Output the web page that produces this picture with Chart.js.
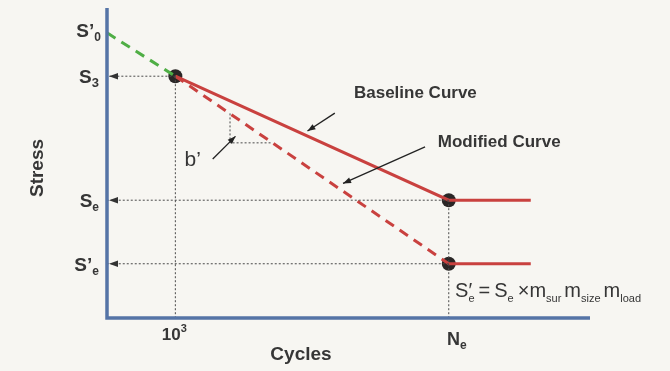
<!DOCTYPE html>
<html>
<head>
<meta charset="utf-8">
<script src="https://cdn.jsdelivr.net/npm/chart.js@4.4.0/dist/chart.umd.min.js"></script>
<style>
  html, body { margin: 0; padding: 0; background: #f7f6f2; }
  #wrap { position: relative; width: 670px; height: 371px; }
</style>
</head>
<body>
<div id="wrap"><canvas id="sn"></canvas></div>
<script>
// S-N diagram: baseline fatigue curve and the curve modified by the m-factors.
// x is log10(cycles), y is stress in arbitrary units.

const cycleTicks = [3, 6];                 // 10^3 and N_e
const cycleTickLabels = ['10', 'N'];
const runoutEnd = 6.9;                     // where the endurance lines stop

const stressS0 = 92;                       // S'0 (modified curve intercept)
const stressS3 = 78;                       // S3 (stress at 10^3 cycles)
const stressSe = 38;                       // Se
const stressSeMod = 17.5;                  // S'e

const baselineX = [3, 6, runoutEnd];
const baselineY = [stressS3, stressSe, stressSe];
const modifiedX = [3, 6];
const modifiedY = [stressS3, stressSeMod];
const modifiedRunoutX = [6, runoutEnd];
const modifiedRunoutY = [stressSeMod, stressSeMod];
const extensionX = [2.25, 3];
const extensionY = [stressS0, stressS3];
const slopeTriangleX = [3.6, 3.6, 4.06];
const slopeTriangleY = [66, 56.5, 56.5];

const RED = '#c9413f';
const GREEN = '#4fae45';
const BLUE = '#5574a6';
const GUIDE = '#4a4a4a';
const INK = '#363636';
const FONT = '"Liberation Sans", Arial, sans-serif';

const pts = (xs, ys) => xs.map((x, i) => ({ x: x, y: ys[i] }));

// dotted guide lines from the knee points back to the axes
const guides = [
    pts([3, 2.25], [stressS3, stressS3]),
    pts([3, 3], [stressS3, 0]),
    pts([6, 2.25], [stressSe, stressSe]),
    pts([6, 2.25], [stressSeMod, stressSeMod]),
    pts([6, 6], [stressSe, 0])
];

function line(data, color, width, dash) {
    return {
        data: data, showLine: true, borderColor: color, borderWidth: width,
        borderDash: dash || [], pointRadius: 0, fill: false, tension: 0
    };
}

// draws a run of text pieces (main text + subscripts) as one label
function richText(ctx, parts, x, y, align) {
    let total = 0;
    parts.forEach(p => {
        ctx.font = p.font;
        p.w = ctx.measureText(p.t).width;
        if (!p.stay) total += p.w + (p.gap || 0);
    });
    let cx = align === 'right' ? x - total : align === 'center' ? x - total / 2 : x;
    ctx.textAlign = 'left';
    ctx.textBaseline = 'alphabetic';
    parts.forEach(p => {
        ctx.font = p.font;
        ctx.fillText(p.t, cx + (p.dx || 0), y + (p.dy || 0));
        if (!p.stay) cx += p.w + (p.gap || 0);
    });
}

function arrowHead(ctx, x1, y1, x2, y2, len, half) {
    const a = Math.atan2(y2 - y1, x2 - x1);
    ctx.beginPath();
    ctx.moveTo(x2, y2);
    ctx.lineTo(x2 - len * Math.cos(a) + half * Math.sin(a), y2 - len * Math.sin(a) - half * Math.cos(a));
    ctx.lineTo(x2 - len * Math.cos(a) - half * Math.sin(a), y2 - len * Math.sin(a) + half * Math.cos(a));
    ctx.closePath();
    ctx.fill();
}

const overlay = {
    id: 'overlay',
    afterDatasetsDraw(chart) {
        const { ctx, chartArea: ca, scales } = chart;
        const X = v => scales.x.getPixelForValue(v);
        const Y = v => scales.y.getPixelForValue(v);
        ctx.save();

        // arrowheads where the guide lines meet the stress axis
        ctx.fillStyle = '#333';
        [stressS3, stressSe, stressSeMod].forEach(s => {
            arrowHead(ctx, ca.left + 20, Y(s), ca.left + 2, Y(s), 9, 3.2);
        });

        // axes
        ctx.strokeStyle = BLUE;
        ctx.lineWidth = 3.5;
        ctx.beginPath();
        ctx.moveTo(ca.left, ca.top);
        ctx.lineTo(ca.left, ca.bottom);
        ctx.lineTo(ca.right, ca.bottom);
        ctx.stroke();

        ctx.fillStyle = INK;
        const b = sz => 'bold ' + sz + 'px ' + FONT;
        const r = sz => sz + 'px ' + FONT;

        // stress tick labels
        const lx = ca.left - 6;
        richText(ctx, [{ t: 'S’', font: b(19) }, { t: '0', font: b(12), dy: 4 }], lx, Y(stressS0) + 4, 'right');
        richText(ctx, [{ t: 'S', font: b(19) }, { t: '3', font: b(13), dy: 4 }], lx - 2, Y(stressS3) + 7, 'right');
        richText(ctx, [{ t: 'S', font: b(19) }, { t: 'e', font: b(12), dy: 4 }], lx - 2, Y(stressSe) + 7, 'right');
        richText(ctx, [{ t: 'S’', font: b(19) }, { t: 'e', font: b(12), dy: 4 }], lx - 2, Y(stressSeMod) + 7, 'right');

        // cycle tick labels
        richText(ctx, [{ t: cycleTickLabels[0], font: b(17) }, { t: '3', font: b(11), dy: -8 }], X(cycleTicks[0]) - 1, ca.bottom + 22, 'center');
        richText(ctx, [{ t: cycleTickLabels[1], font: b(18) }, { t: 'e', font: b(12), dy: 4 }], X(cycleTicks[1]) + 8, ca.bottom + 27, 'center');

        // axis titles
        ctx.font = b(19);
        ctx.textAlign = 'center';
        ctx.textBaseline = 'middle';
        ctx.fillText('Cycles', 301, ca.bottom + 37);
        ctx.save();
        ctx.translate(38, 168);
        ctx.rotate(-Math.PI / 2);
        ctx.fillText('Stress', 0, 0);
        ctx.restore();

        // curve names with pointer arrows
        ctx.font = b(17);
        ctx.textAlign = 'left';
        ctx.fillText('Baseline Curve', X(4.96), Y(72.5));
        ctx.fillText('Modified Curve', X(5.88), Y(56.8));
        ctx.font = r(21);
        ctx.fillText('b’', X(3.1), Y(50.8));

        ctx.strokeStyle = '#222';
        ctx.fillStyle = '#222';
        ctx.lineWidth = 1.3;
        [[4.75, 66.1, 4.45, 60.3], [5.74, 55.2, 4.84, 43.4], [3.41, 51.3, 3.66, 58.6]].forEach(a => {
            const x1 = X(a[0]), y1 = Y(a[1]), x2 = X(a[2]), y2 = Y(a[3]);
            ctx.beginPath();
            ctx.moveTo(x1, y1);
            ctx.lineTo(x2, y2);
            ctx.stroke();
            arrowHead(ctx, x1, y1, x2, y2, 8, 3);
        });

        // modification factor relation
        ctx.fillStyle = INK;
        const main = r(20), sub = r(11);
        richText(ctx, [
            { t: 'S', font: main },
            { t: '′', font: main, stay: true },
            { t: 'e', font: sub, dy: 5, gap: 4 },
            { t: '=', font: main, gap: 4 },
            { t: 'S', font: main },
            { t: 'e', font: sub, dy: 5, gap: 4 },
            { t: '×', font: main, gap: 0 },
            { t: 'm', font: main },
            { t: 'sur', font: sub, dy: 5, gap: 3 },
            { t: 'm', font: main },
            { t: 'size', font: sub, dy: 5, gap: 3 },
            { t: 'm', font: main },
            { t: 'load', font: sub, dy: 5 }
        ], X(6.07), Y(stressSeMod) + 33, 'left');

        ctx.restore();
    }
};

new Chart(document.getElementById('sn'), {
    type: 'scatter',
    data: {
        datasets: [
            ...guides.map(g => line(g, GUIDE, 1, [2, 2])),
            line(pts(slopeTriangleX, slopeTriangleY), GUIDE, 1, [2, 2]),
            line(pts(extensionX, extensionY), GREEN, 3, [10, 7]),
            line(pts(modifiedX, modifiedY), RED, 3, [10, 7]),
            line(pts(modifiedRunoutX, modifiedRunoutY), RED, 3),
            line(pts(baselineX, baselineY), RED, 3),
            {
                data: pts([3, 6, 6], [stressS3, stressSe, stressSeMod]),
                showLine: false, pointRadius: 7, pointBackgroundColor: '#2a2626',
                pointBorderWidth: 0
            }
        ]
    },
    options: {
        responsive: true,
        maintainAspectRatio: false,
        animation: false,
        layout: { padding: { left: 107, right: 80, top: 8, bottom: 53 } },
        scales: {
            x: { type: 'linear', display: false, min: 2.25, max: 7.55 },
            y: { type: 'linear', display: false, min: 0, max: 100 }
        },
        plugins: { legend: { display: false }, tooltip: { enabled: false } },
        events: []
    },
    plugins: [overlay]
});
</script>
</body>
</html>
